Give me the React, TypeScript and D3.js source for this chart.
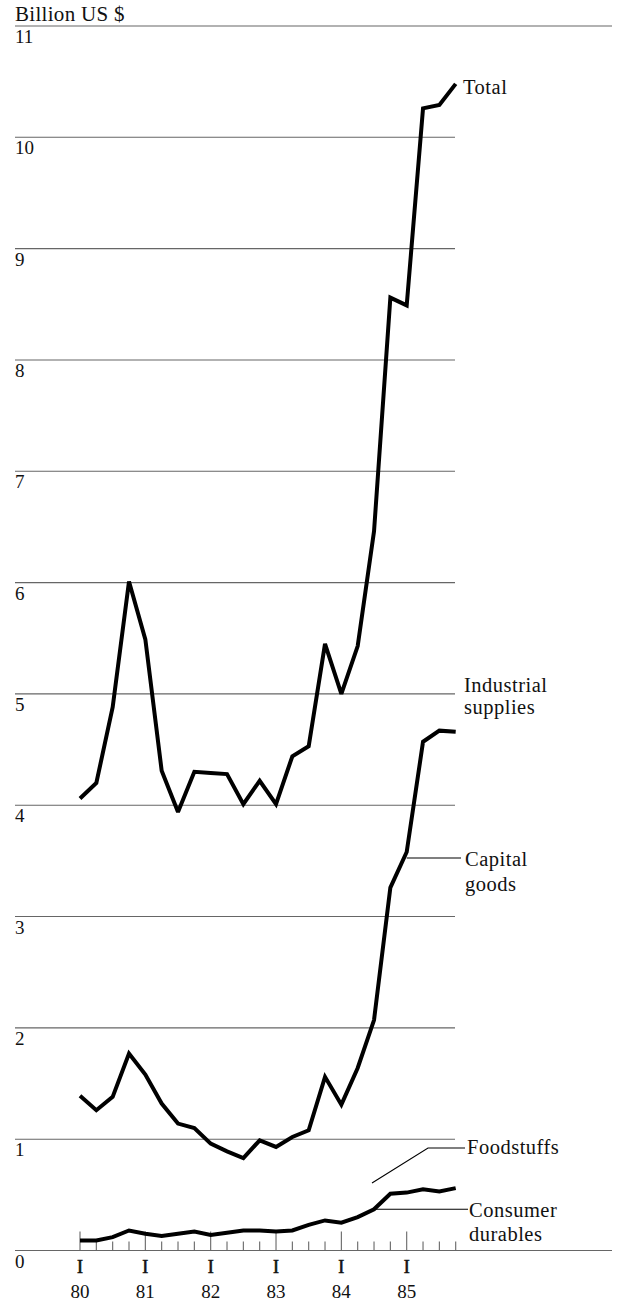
import React from "react";
import * as d3 from "d3";

const quarters = [
  "1980 I", "1980 II", "1980 III", "1980 IV",
  "1981 I", "1981 II", "1981 III", "1981 IV",
  "1982 I", "1982 II", "1982 III", "1982 IV",
  "1983 I", "1983 II", "1983 III", "1983 IV",
  "1984 I", "1984 II", "1984 III", "1984 IV",
  "1985 I", "1985 II", "1985 III", "1985 IV",
];

const total = [4.06, 4.2, 4.88, 6.01, 5.49, 4.31, 3.94, 4.3, 4.29, 4.28, 4.01, 4.22, 4.01, 4.44, 4.53, 5.45, 5.0, 5.43, 6.46, 8.56, 8.49, 10.26, 10.29, 10.48];
const industrialSupplies = [1.39, 1.26, 1.38, 1.77, 1.58, 1.32, 1.14, 1.1, 0.96, 0.89, 0.83, 0.99, 0.93, 1.02, 1.08, 1.56, 1.31, 1.64, 2.07, 3.26, 3.58, 4.57, 4.67, 4.66];
const consumerDurables = [0.09, 0.09, 0.12, 0.18, 0.15, 0.13, 0.15, 0.17, 0.14, 0.16, 0.18, 0.18, 0.17, 0.18, 0.23, 0.27, 0.25, 0.3, 0.37, 0.51, 0.52, 0.55, 0.53, 0.56];

const yTicks = [0, 1, 2, 3, 4, 5, 6, 7, 8, 9, 10, 11];
const yearLabels = ["80", "81", "82", "83", "84", "85"];
const quarterMark = "I";
const unitLabel = "Billion US $";

const FONT = "'Liberation Serif', 'Times New Roman', serif";

export default function App() {
  const x = d3.scaleLinear().domain([0, quarters.length - 1]).range([80, 455.7]);
  const y = d3.scaleLinear().domain([0, 11]).range([1250.5, 26]);
  const line = d3
    .line<number>()
    .x((_, i) => x(i))
    .y((d) => y(d));

  const gridColor = "#666";
  const textColor = "#111";

  return (
    <svg
      width={618}
      height={1304}
      style={{ position: "absolute", left: 0, top: 0, background: "#fff" }}
      fontFamily={FONT}
    >
      <rect x={0} y={0} width={618} height={1304} fill="#fff" />
      {/* gridlines */}
      {yTicks.map((t) => (
        <line
          key={"g" + t}
          x1={15}
          x2={t === 0 || t === 11 ? 612 : 455}
          y1={y(t)}
          y2={y(t)}
          stroke={gridColor}
          strokeWidth={1.1}
        />
      ))}
      {/* y labels */}
      {yTicks.map((t) => (
        <text key={"yl" + t} x={15} y={y(t) + 17} fontSize={19} fill={textColor}>
          {t}
        </text>
      ))}
      <text x={15} y={21} fontSize={21} fill={textColor} letterSpacing={0.3}>
        {unitLabel}
      </text>

      {/* quarter ticks */}
      {quarters.map((q, i) => (
        <line
          key={"qt" + q}
          x1={x(i)}
          x2={x(i)}
          y1={y(0)}
          y2={y(0) - (i % 4 === 0 ? 19 : 9)}
          stroke={gridColor}
          strokeWidth={1.1}
        />
      ))}
      {/* year labels */}
      {yearLabels.map((yl, j) => (
        <g key={"yr" + yl}>
          <text
            x={x(j * 4)}
            y={1273}
            fontSize={18}
            textAnchor="middle"
            fill={textColor}
            stroke={textColor}
            strokeWidth={0.6}
          >
            {quarterMark}
          </text>
          <text x={x(j * 4)} y={1298} fontSize={19} textAnchor="middle" fill={textColor}>
            {yl}
          </text>
        </g>
      ))}

      {/* series */}
      {[total, industrialSupplies, consumerDurables].map((s, k) => (
        <path
          key={"s" + k}
          d={line(s) || ""}
          fill="none"
          stroke="#000"
          strokeWidth={4}
          strokeLinejoin="miter"
          strokeMiterlimit={2.5}
        />
      ))}

      {/* labels and leaders */}
      <g fontSize={20.5} fill={textColor} letterSpacing={0.5}>
        <text x={463} y={94}>Total</text>
        <text x={464} y={692}>Industrial</text>
        <text x={464} y={714}>supplies</text>
        <line x1={x(20)} x2={461} y1={858} y2={858} stroke="#000" strokeWidth={1.1} />
        <text x={465} y={866}>Capital</text>
        <text x={465} y={891}>goods</text>
        <polyline
          points="372,1183 428,1148 465,1148"
          fill="none"
          stroke="#000"
          strokeWidth={1.1}
        />
        <text x={467} y={1154}>Foodstuffs</text>
        <line
          x1={x(18)}
          x2={468}
          y1={y(consumerDurables[18])}
          y2={y(consumerDurables[18])}
          stroke="#000"
          strokeWidth={1.1}
        />
        <text x={469} y={1217}>Consumer</text>
        <text x={469} y={1241}>durables</text>
      </g>
    </svg>
  );
}
